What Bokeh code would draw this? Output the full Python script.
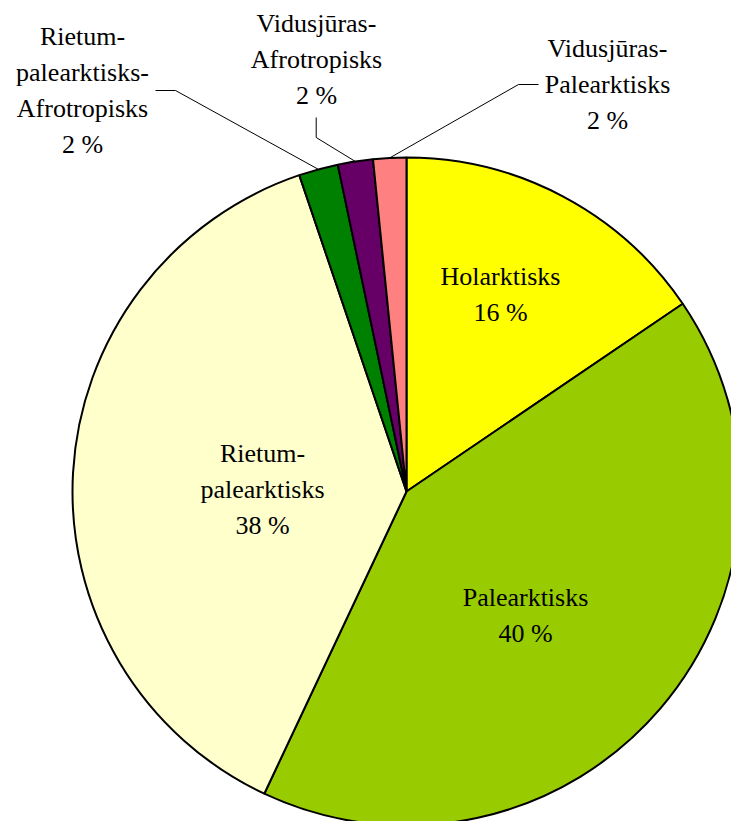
import numpy as np
from bokeh.plotting import figure
from bokeh.models import Range1d, ColumnDataSource
from bokeh.embed import file_html
from bokeh.resources import INLINE

# ---- data ----
categories = ["Holarktisks", "Palearktisks", "Rietumpalearktisks",
              "Rietumpalearktisks-Afrotropisks", "Vidusjūras-Afrotropisks",
              "Vidusjūras-Palearktisks"]
name_lines = [["Holarktisks"], ["Palearktisks"], ["Rietum-", "palearktisks"],
              ["Rietum-", "palearktisks-", "Afrotropisks"],
              ["Vidusjūras-", "Afrotropisks"], ["Vidusjūras-", "Palearktisks"]]
shares = [15.5, 41.5, 37.8, 1.9, 1.7, 1.6]
pct_labels = ["16 %", "40 %", "38 %", "2 %", "2 %", "2 %"]
colors = ["#FFFF00", "#99CC00", "#FFFFCC", "#008000", "#660066", "#FF8080"]

# ---- layout ----
W, H = 731, 821
CX, CY = 406, 491          # pie centre in page pixels
R = 334
# two spellings of the same serif family (kept as a per-row column)
FONT_VARIANTS = ["Liberation Serif", "'Liberation Serif'"]
FS = "26px"
LINE_H = 36
DY = 9
# top-line baseline anchor for each label block (x centre, y baseline), chart units
label_anchor = [(94, 206 + DY), (119, -115 + DY), (-144, 29 + DY), (-324, 446 + DY),
                (-90, 459 + DY), (201, 434 + DY)]
# elbow points of leader lines for outside labels (index -> [start, elbow])
leaders = {3: [(-251, 401), (-231, 401)], 4: [(-90.3, 374), (-90.3, 354)],
           5: [(132, 407), (112, 407)]}

p = figure(width=W, height=H, x_range=Range1d(-CX, W - CX), y_range=Range1d(CY - H, CY),
           output_backend="svg", toolbar_location=None, min_border=0,
           x_axis_type=None, y_axis_type=None)
p.grid.visible = False
p.outline_line_color = None
p.background_fill_color = "white"
p.border_fill_color = "white"

vals = np.array(shares, dtype=float)
frac = vals / vals.sum()
cum = np.concatenate([[0], np.cumsum(frac)])
start = np.pi / 2 - 2 * np.pi * cum[:-1]
end = np.pi / 2 - 2 * np.pi * cum[1:]
src = ColumnDataSource(dict(start=start, end=end, color=colors, cat=categories))
p.wedge(x=0, y=0, radius=R, start_angle="start", end_angle="end", direction="clock",
        fill_color="color", line_color="black", line_width=2, source=src)

# leader lines
for i, pts in leaders.items():
    mid = np.pi / 2 - 2 * np.pi * (cum[i] + cum[i + 1]) / 2
    ex, ey = R * np.cos(mid), R * np.sin(mid)
    p.line([pts[0][0], pts[1][0], ex], [pts[0][1], pts[1][1], ey],
           line_color="black", line_width=1)

# labels
tx, ty, tt, tf = [], [], [], []
n = 0
for i in range(len(categories)):
    lines = name_lines[i] + [pct_labels[i]]
    ax, ay = label_anchor[i]
    for k, s in enumerate(lines):
        tx.append(ax)
        ty.append(ay - k * LINE_H)
        tt.append(s)
        tf.append(FONT_VARIANTS[n % 2])
        n += 1
tsrc = ColumnDataSource(dict(x=tx, y=ty, text=tt, font=tf))
p.text(x="x", y="y", text="text", text_font="font", source=tsrc, text_align="center",
       text_baseline="alphabetic", text_font_size=FS, text_color="black")

open("out.html", "w").write(file_html(p, INLINE))
